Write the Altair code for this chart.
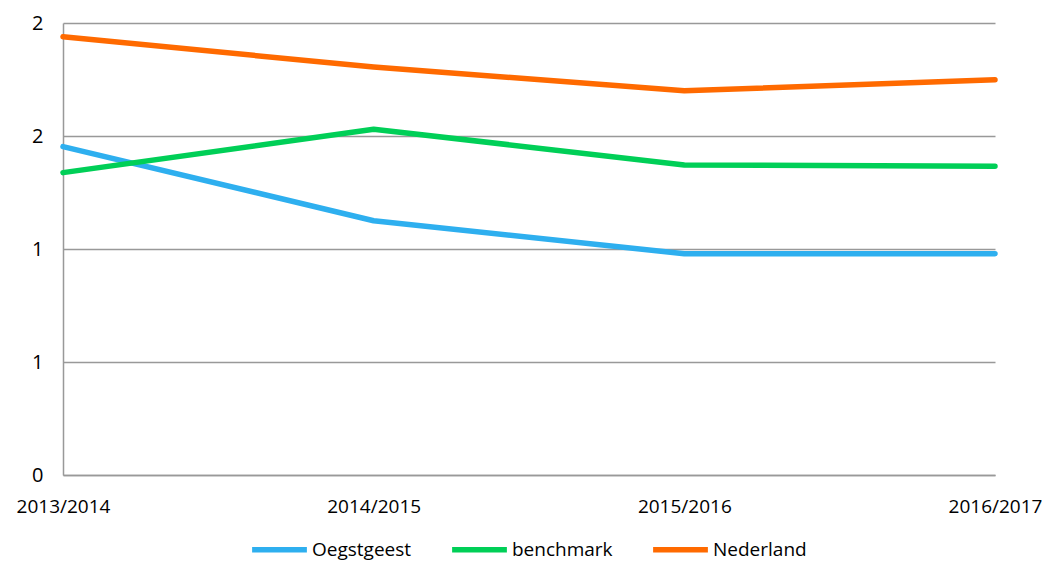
import altair as alt
import pandas as pd

years = ["2013/2014", "2014/2015", "2015/2016", "2016/2017"]
oegstgeest = [1.453, 1.125, 0.979, 0.979]
benchmark = [1.338, 1.530, 1.372, 1.366]
nederland = [1.939, 1.805, 1.700, 1.749]
series_names = ["Oegstgeest", "benchmark", "Nederland"]
colors = ["#2EAFEF", "#00CF57", "#FF6A00"]

rows = []
for name, vals in zip(series_names, [oegstgeest, benchmark, nederland]):
    for yr, v in zip(years, vals):
        rows.append({"jaar": yr, "serie": name, "waarde": v})
df = pd.DataFrame(rows)

FONT = "Open Sans"

chart = alt.Chart(df).mark_line(strokeWidth=5.5, strokeCap="round", strokeJoin="round").encode(
    x=alt.X("jaar:N", sort=years, title=None,
            scale=alt.Scale(type="point", padding=0),
            axis=alt.Axis(labelAngle=0, ticks=False, grid=False, domain=True,
                          domainColor="#999999", domainWidth=1.5,
                          labelPadding=22, labelFontSize=19, labelColor="#000000",
                          labelFont=FONT, labelAlign="center")),
    y=alt.Y("waarde:Q", title=None,
            scale=alt.Scale(domain=[0, 2], nice=False, zero=True),
            axis=alt.Axis(values=[0, 0.5, 1, 1.5, 2], labelExpr="round(datum.value)",
                          ticks=False, grid=True, gridColor="#999999", gridWidth=1.5,
                          domain=True, domainColor="#999999", domainWidth=1.5,
                          labelPadding=20, labelFontSize=20, labelColor="#000000",
                          labelFont=FONT)),
    color=alt.Color("serie:N", sort=series_names, title=None,
                    scale=alt.Scale(domain=series_names, range=colors),
                    legend=alt.Legend(orient="none", legendX=186, legendY=496,
                                      direction="horizontal", symbolType="stroke",
                                      symbolSize=3000, symbolStrokeWidth=5.5,
                                      labelFontSize=19, labelFont=FONT, labelColor="#000000",
                                      labelOffset=2, columnPadding=29, padding=0)),
).properties(
    width=932, height=452,
    autosize=alt.AutoSizeParams(type="none"),
    padding={"left": 55, "top": 15, "right": 47, "bottom": 88},
).configure_view(stroke=None)

chart.save("out.html", embed_options={"renderer": "svg", "actions": False})
